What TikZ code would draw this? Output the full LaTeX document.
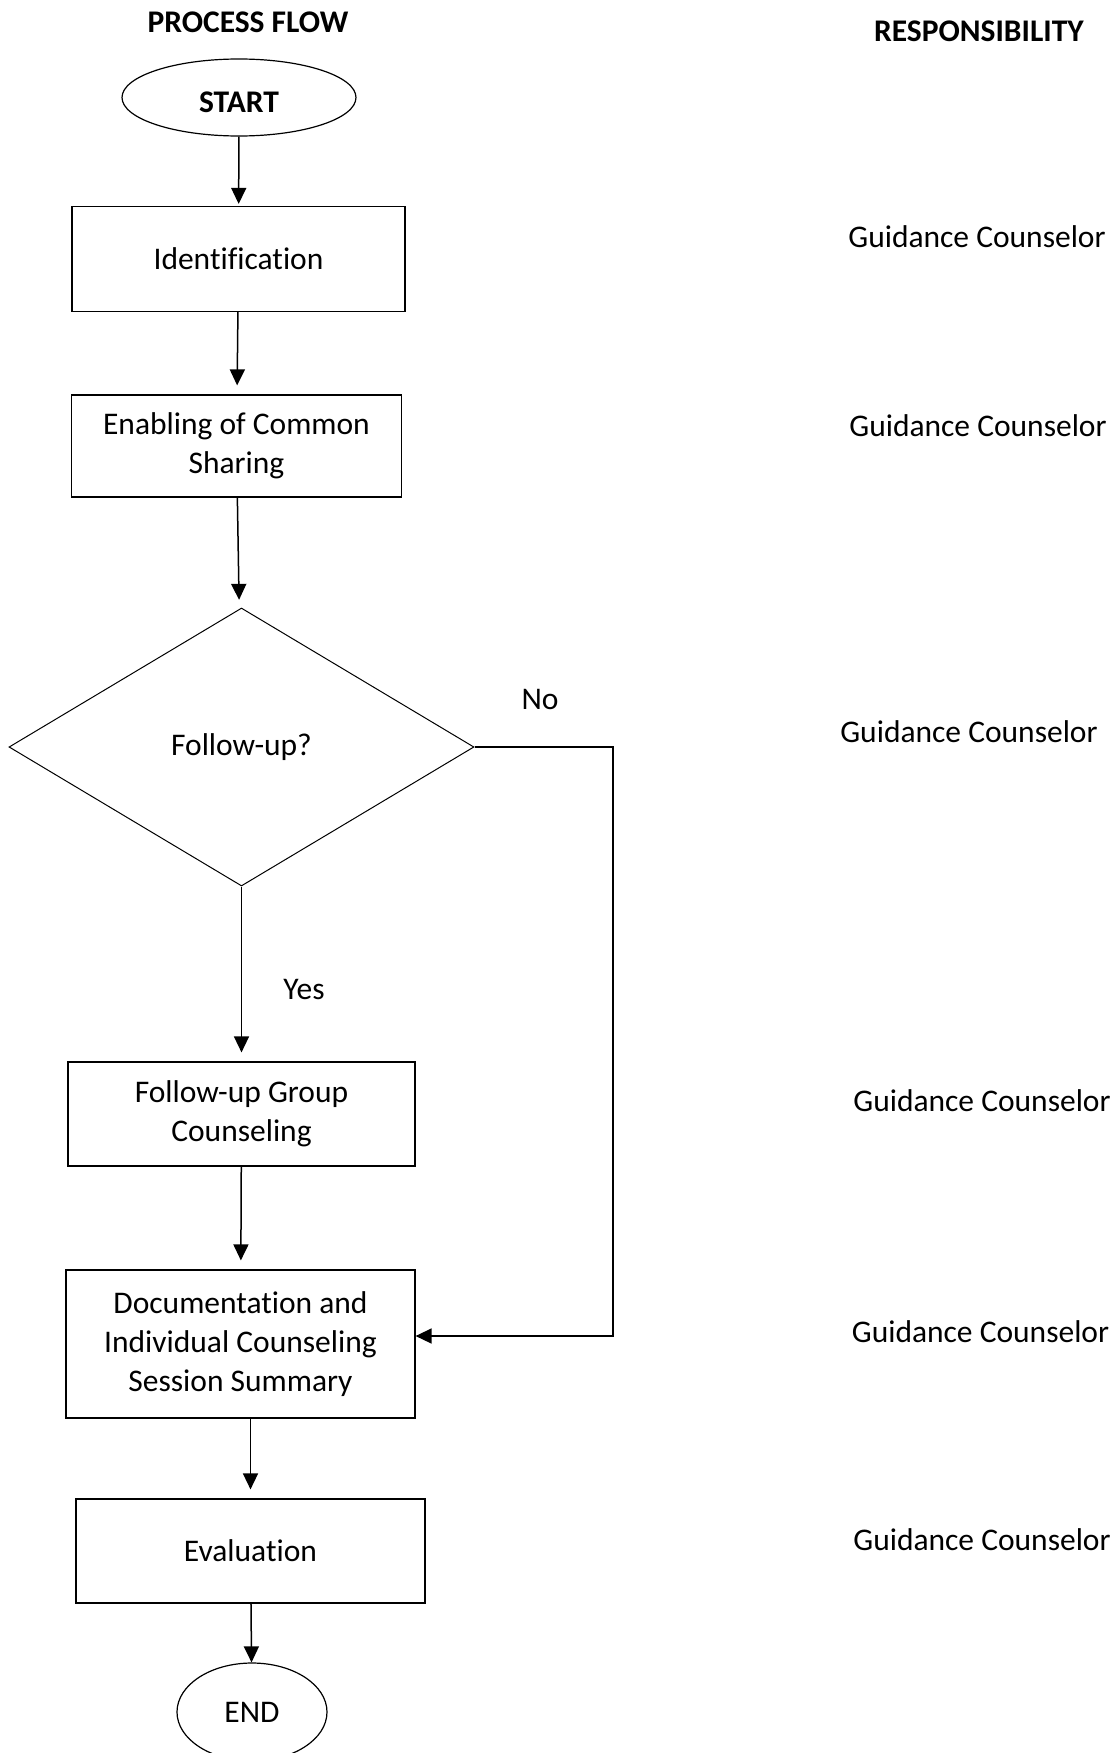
\documentclass[tikz,border=0pt]{standalone}
\usepackage{fontspec}
\setmainfont{Carlito}[Ligatures=NoCommon]
\usetikzlibrary{shapes.geometric,arrows.meta}

\begin{document}
\begin{tikzpicture}[x=1pt, y=-1pt,
        every node/.style={font=\fontsize{31.5}{39}\selectfont},
        box/.style={draw, line width=1.2pt, align=center, inner sep=0pt},
        arr/.style={line width=1.5pt, -{Triangle[length=16pt,width=15pt]}, shorten >=9pt}]
                \useasboundingbox (0,0) rectangle (1117,1753);
                \node[] (flowhead) at (248,22) {\textbf{PROCESS FLOW}};
                \node[] (resphead) at (979,31) {\textbf{RESPONSIBILITY}};
                \node[ellipse, draw, line width=1.2pt, inner sep=0pt, text height=29pt, text depth=0pt, minimum width=234pt, minimum height=77pt] (start) at (239,97.5) {\textbf{START}};
                \node[box, minimum width=333pt, minimum height=105pt] (ident) at (238.5,259) {Identification};
                \node[box, minimum width=330pt, minimum height=102pt] (enabling) at (236.5,446) {Enabling of Common\\Sharing};
                \node[diamond, draw, line width=1pt, aspect=1.67, inner sep=0pt, minimum width=465pt, minimum height=278pt] (decision) at (241.5,747) {Follow-up?};
                \node[box, minimum width=347pt, minimum height=104pt] (followup) at (241.5,1114) {Follow-up Group\\Counseling};
                \node[box, minimum width=349pt, minimum height=148pt] (docu) at (240.5,1344) {Documentation and\\Individual Counseling\\Session Summary};
                \node[box, minimum width=349pt, minimum height=104pt] (evaluation) at (250.5,1551) {Evaluation};
                \node[ellipse, draw, line width=1.2pt, inner sep=0pt, minimum width=150pt, minimum height=98pt] (finish) at (252,1712) {END};
                \node[] (nolabel) at (540,699) {No};
                \node[] (yeslabel) at (304,989.5) {Yes};
                \coordinate (bend) at (613,747);
                \node[] (resp1) at (977,237) {Guidance Counselor};
                \node[] (resp2) at (978,426) {Guidance Counselor};
                \node[] (resp3) at (969,732) {Guidance Counselor};
                \node[] (resp4) at (982,1101) {Guidance Counselor};
                \node[] (resp5) at (980.5,1331.5) {Guidance Counselor};
                \node[] (resp6) at (982,1539.5) {Guidance Counselor};
                \draw [arr, shorten >=2pt] (start) -- (ident);
                \draw [arr] (ident) -- (enabling);
                \draw [arr] (enabling) -- (decision);
                \draw [arr] (decision) -- (followup);
                \draw [arr] (followup) -- (docu);
                \draw [arr] (docu.south -| evaluation) -- (evaluation);
                \draw [arr, shorten >=0pt] (evaluation) -- (finish);
                \draw [arr, shorten >=0pt] (decision.east) -- (bend) |- ([yshift=8pt]docu.east);
            \end{tikzpicture}
\end{document}
